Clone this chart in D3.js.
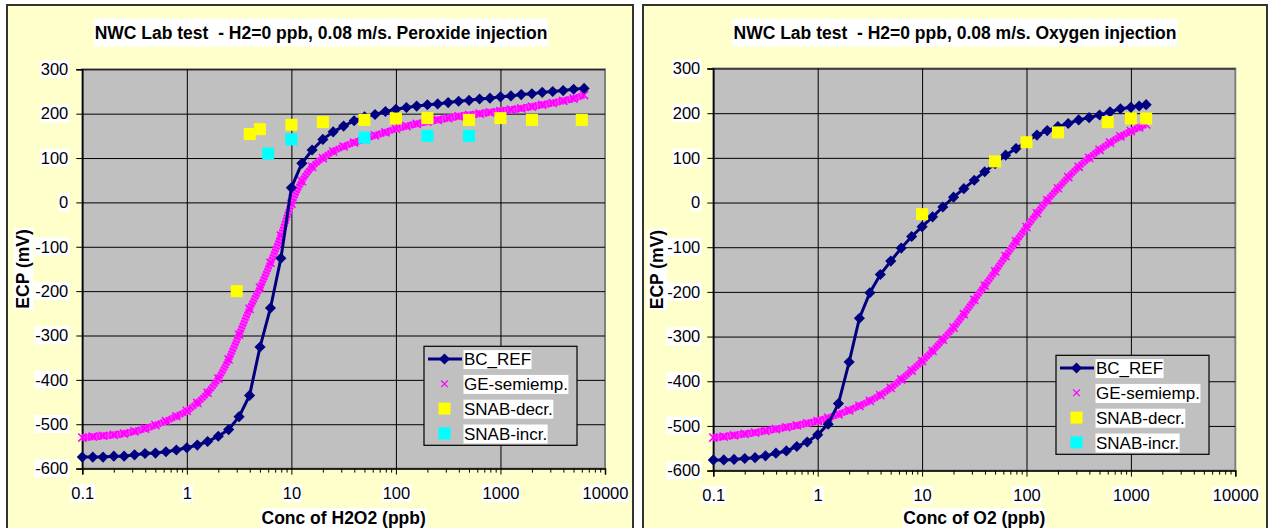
<!DOCTYPE html>
<html><head><meta charset="utf-8">
<script src="https://cdn.jsdelivr.net/npm/d3@7"></script>
<style>
body{margin:0;background:#fff}
svg{display:block}
text{font-family:"Liberation Sans",Arial,sans-serif}
</style>
</head><body>
<svg id="c" width="1274" height="528"></svg>
<script>
// ---------- shared axis / legend data ----------
const xTickValues = [0.1, 1, 10, 100, 1000, 10000];
const xTickLabels = ["0.1", "1", "10", "100", "1000", "10000"];
const yTickValues = [-600, -500, -400, -300, -200, -100, 0, 100, 200, 300];
const yTickLabels = ["-600", "-500", "-400", "-300", "-200", "-100", "0", "100", "200", "300"];
const seriesNames = ["BC_REF", "GE-semiemp.", "SNAB-decr.", "SNAB-incr."];

// ---------- Peroxide injection chart ----------
const h2o2Title = "NWC Lab test  - H2=0 ppb, 0.08 m/s. Peroxide injection";
const h2o2XTitle = "Conc of H2O2 (ppb)";
const h2o2Conc = [0.1,0.126,0.158,0.2,0.251,0.316,0.398,0.501,0.631,0.794,
  1,1.26,1.58,2,2.51,3.16,3.98,5.01,6.31,7.94,
  10,12.6,15.8,20,25.1,31.6,39.8,50.1,63.1,79.4,
  100,126,158,200,251,316,398,501,631,794,
  1000,1260,1580,2000,2510,3160,3980,5010,6310];
const h2o2BcRef = [-574,-574,-574,-572,-572,-569,-566,-565,-562,-558,
  -553,-547,-539,-527,-512,-483,-435,-326,-238,-126,
  33,88,118,142,159,172,184,193,198,205,
  210,214,217,220,222,225,228,230,233,235,
  238,240,243,245,248,250,252,255,257];
const h2o2GeSemiemp = [-530,-528,-526,-524,-521,-516,-510,-502,-493,-482,
  -470,-452,-429,-397,-354,-298,-240,-192,-136,-75,
  -3,48,80,100,115,126,135,143,151,158,
  166,172,177,182,186,190,194,197,200,203,
  206,209,212,216,220,224,229,234,242];
const h2o2SnabDecrConc = [3,4,5,10,20,50,100,200,500,1000,2000,6000];
const h2o2SnabDecr = [-200,154,165,175,181,186,189,190,186,190,186,186];
const h2o2SnabIncrConc = [6,10,50,200,500];
const h2o2SnabIncr = [110,142,146,150,150];

// ---------- Oxygen injection chart ----------
const o2Title = "NWC Lab test  - H2=0 ppb, 0.08 m/s. Oxygen injection";
const o2XTitle = "Conc of O2 (ppb)";
const o2Conc = [0.1,0.126,0.158,0.2,0.251,0.316,0.398,0.501,0.631,0.794,
  1,1.26,1.58,2,2.51,3.16,3.98,5.01,6.31,7.94,
  10,12.6,15.8,20,25.1,31.6,39.8,50.1,63.1,79.4,
  100,126,158,200,251,316,398,501,631,794,
  1000,1200,1400];
const o2BcRef = [-576,-576,-575,-573,-571,-567,-561,-556,-546,-536,
  -520,-496,-450,-357,-259,-202,-161,-131,-102,-76,
  -54,-32,-10,12,31,50,69,87,106,121,
  136,151,161,170,177,185,190,196,203,210,
  213,216,219];
const o2GeSemiemp = [-526,-524,-521,-518,-515,-511,-507,-503,-499,-494,
  -489,-482,-474,-465,-455,-444,-431,-415,-396,-376,
  -355,-332,-307,-280,-250,-218,-186,-154,-120,-87,
  -55,-24,5,32,57,80,100,118,134,148,
  160,168,175];
const o2SnabDecrConc = [10,50,100,200,600,1000,1400];
const o2SnabDecr = [-26,92,135,157,180,188,188];
const o2SnabIncrConc = [];
const o2SnabIncr = [];

const yTitle = "ECP (mV)";

// ---------- drawing ----------
const svg = d3.select("#c");
const FONT_TICK = "16.5px", FONT_LEG = "17px", FONT_TITLE = "17.5px";

function bgBehind(parent, textNode, padX, padY) {
  const b = textNode.getBBox();
  parent.insert("rect", () => textNode)
    .attr("x", b.x - padX).attr("y", b.y - padY)
    .attr("width", b.width + 2 * padX).attr("height", b.height + 2 * padY)
    .attr("fill", "#fff");
}

function drawChart(cfg, d) {
  const g = svg.append("g");
  g.append("rect").attr("x", cfg.fx).attr("y", 5).attr("width", cfg.fw).attr("height", 580)
    .attr("fill", "#FFFFCC").attr("stroke", "#333").attr("stroke-width", 2);

  const x = d3.scaleLog().domain([0.1, 10000]).range([cfg.px0, cfg.px1]);
  const y = d3.scaleLinear().domain([-600, 300]).range([cfg.py1, cfg.py0]);
  const H = cfg.py1 - cfg.py0, W = cfg.px1 - cfg.px0;

  // plot area
  g.append("rect").attr("x", cfg.px0).attr("y", cfg.py0).attr("width", W).attr("height", H)
    .attr("fill", "#C0C0C0").attr("stroke", "#808080").attr("stroke-width", 2);

  // gridlines
  const gxg = g.append("g").attr("transform", `translate(0,${cfg.py1})`)
    .call(d3.axisBottom(x).tickValues(xTickValues.slice(1, -1)).tickSize(-H).tickFormat(""));
  gxg.select(".domain").remove();
  gxg.selectAll("line").attr("stroke", "#000").attr("stroke-width", 1);
  const gyg = g.append("g").attr("transform", `translate(${cfg.px0},0)`)
    .call(d3.axisLeft(y).tickValues(yTickValues.slice(1)).tickSize(-W).tickFormat(""));
  gyg.select(".domain").remove();
  gyg.selectAll("line").attr("stroke", "#000").attr("stroke-width", 1);

  // minor x ticks
  const minor = [];
  for (let e = -1; e < 4; e++) for (let m = 2; m <= 9; m++) minor.push(m * Math.pow(10, e));
  const gm = g.append("g").attr("transform", `translate(0,${cfg.py1})`)
    .call(d3.axisBottom(x).tickValues(minor).tickSize(4).tickFormat(""));
  gm.select(".domain").remove();
  gm.selectAll("line").attr("stroke", "#000");

  // x axis
  const gx = g.append("g").attr("transform", `translate(0,${cfg.py1})`)
    .call(d3.axisBottom(x).tickValues(xTickValues).tickSize(6)
      .tickFormat((v, i) => xTickLabels[i]));
  gx.select(".domain").attr("stroke", "#000").attr("stroke-width", 1.5);
  gx.selectAll("line").attr("stroke", "#000");
  gx.selectAll("text").attr("y", 19).attr("fill", "#000").style("font-size", FONT_TICK)
    .style("font-family", '"Liberation Sans",Arial,sans-serif');
  gx.selectAll(".tick").each(function () {
    const t = d3.select(this).select("text").node();
    bgBehind(d3.select(this), t, 1, 0);
  });

  // y axis
  const gy = g.append("g").attr("transform", `translate(${cfg.px0},0)`)
    .call(d3.axisLeft(y).tickValues(yTickValues).tickSize(6)
      .tickFormat((v, i) => yTickLabels[i]));
  gy.select(".domain").attr("stroke", "#000").attr("stroke-width", 1.5);
  gy.selectAll("line").attr("stroke", "#000");
  gy.selectAll("text").attr("x", -cfg.ylabGap).attr("fill", "#000").style("font-size", FONT_TICK)
    .style("font-family", '"Liberation Sans",Arial,sans-serif');
  gy.selectAll(".tick").each(function () {
    const t = d3.select(this).select("text").node();
    bgBehind(d3.select(this), t, 1, 0);
  });

  // series
  const clip = g.append("g");
  // GE-semiemp. band + x markers
  const gePts = d.conc.map((c, i) => [x(c), y(d.ge[i])]);
  clip.append("path").attr("d", d3.line().curve(d3.curveMonotoneX)(gePts))
    .attr("fill", "none").attr("stroke", "#FF40FF").attr("stroke-width", 7);
  clip.append("path").attr("d", d3.line().curve(d3.curveMonotoneX)(gePts))
    .attr("fill", "none").attr("stroke", "#FF00FF").attr("stroke-width", 7)
    .attr("stroke-dasharray", "1.5,1.5");
  const timesSym = d3.symbol().type(d3.symbolTimes || d3.symbolCross).size(45);
  clip.selectAll(".ge").data(gePts).join("path").attr("class", "ge")
    .attr("transform", p => `translate(${p[0]},${p[1]})`)
    .attr("d", timesSym).attr("fill", "none").attr("stroke", "#FF00FF").attr("stroke-width", 1.5);

  // BC_REF line + diamonds
  const bcPts = d.conc.map((c, i) => [x(c), y(d.bc[i])]);
  clip.append("path").attr("d", d3.line()(bcPts))
    .attr("fill", "none").attr("stroke", "#000080").attr("stroke-width", 3);
  const diamond = d3.symbol().type(d3.symbolSquare).size(62);
  clip.selectAll(".bc").data(bcPts).join("path").attr("class", "bc")
    .attr("transform", p => `translate(${p[0]},${p[1]}) rotate(45)`)
    .attr("d", diamond).attr("fill", "#000080");

  // SNAB squares
  const sq = d3.symbol().type(d3.symbolSquare).size(144);
  clip.selectAll(".sd").data(d.decrConc.map((c, i) => [x(c), y(d.decr[i])])).join("path")
    .attr("class", "sd").attr("transform", p => `translate(${p[0]},${p[1]})`)
    .attr("d", sq).attr("fill", "#FFFF00");
  clip.selectAll(".si").data(d.incrConc.map((c, i) => [x(c), y(d.incr[i])])).join("path")
    .attr("class", "si").attr("transform", p => `translate(${p[0]},${p[1]})`)
    .attr("d", sq).attr("fill", "#00FFFF");

  // title
  const tt = g.append("text").attr("x", cfg.titleX).attr("y", 38.5).attr("text-anchor", "middle")
    .attr("xml:space", "preserve").style("white-space", "pre")
    .style("font-size", FONT_TITLE).style("font-weight", "bold").text(d.title);
  bgBehind(g, tt.node(), 1, 4);

  // axis titles
  const xt = g.append("text").attr("x", (cfg.px0 + cfg.px1) / 2).attr("y", 524).attr("text-anchor", "middle")
    .style("font-size", FONT_TITLE).style("font-weight", "bold").text(d.xTitle);
  bgBehind(g, xt.node(), 1, 0);
  const ytg = g.append("g").attr("transform", `translate(${cfg.ytX},${(cfg.py0 + cfg.py1) / 2}) rotate(-90)`);
  const yt = ytg.append("text").attr("x", 0).attr("y", 0).attr("dy", "0.36em").attr("text-anchor", "middle")
    .style("font-size", FONT_TITLE).style("font-weight", "bold").text(yTitle);
  bgBehind(ytg, yt.node(), 1, 0);

  // legend
  const L = g.append("g").attr("transform", `translate(${cfg.lx},${cfg.ly})`);
  L.append("rect").attr("width", 153).attr("height", 99).attr("fill", "#C0C0C0")
    .attr("stroke", "#000").attr("stroke-width", 1.2);
  seriesNames.forEach((name, i) => {
    const cy = 12.7 + i * 24.8;
    if (i === 0) {
      L.append("line").attr("x1", 4).attr("x2", 38).attr("y1", cy).attr("y2", cy)
        .attr("stroke", "#000080").attr("stroke-width", 3);
      L.append("path").attr("transform", `translate(20.5,${cy}) rotate(45)`).attr("d", diamond).attr("fill", "#000080");
    } else if (i === 1) {
      L.append("path").attr("transform", `translate(20.5,${cy})`).attr("d", d3.symbol().type(d3.symbolTimes || d3.symbolCross).size(30))
        .attr("fill", "none").attr("stroke", "#FF00FF").attr("stroke-width", 1.2);
    } else {
      L.append("rect").attr("x", 14.5).attr("y", cy - 6).attr("width", 12).attr("height", 12)
        .attr("fill", i === 2 ? "#FFFF00" : "#00FFFF");
    }
    const lt = L.append("text").attr("x", 40).attr("y", cy).attr("dy", "0.36em")
      .style("font-size", FONT_LEG).text(name);
    bgBehind(L, lt.node(), 0.5, 0);
  });
}

drawChart({fx: 7, fw: 626, px0: 82.3, px1: 605, py0: 69.3, py1: 468.6, titleX: 321, ytX: 23, ylabGap: 14, lx: 424, ly: 346.3},
  {conc: h2o2Conc, bc: h2o2BcRef, ge: h2o2GeSemiemp, decrConc: h2o2SnabDecrConc, decr: h2o2SnabDecr,
   incrConc: h2o2SnabIncrConc, incr: h2o2SnabIncr, title: h2o2Title, xTitle: h2o2XTitle});
drawChart({fx: 643, fw: 624, px0: 713.3, px1: 1235.3, py0: 68.5, py1: 470.6, titleX: 955, ytX: 657, ylabGap: 13, lx: 1056, ly: 355.3},
  {conc: o2Conc, bc: o2BcRef, ge: o2GeSemiemp, decrConc: o2SnabDecrConc, decr: o2SnabDecr,
   incrConc: o2SnabIncrConc, incr: o2SnabIncr, title: o2Title, xTitle: o2XTitle});
</script>
</body></html>
